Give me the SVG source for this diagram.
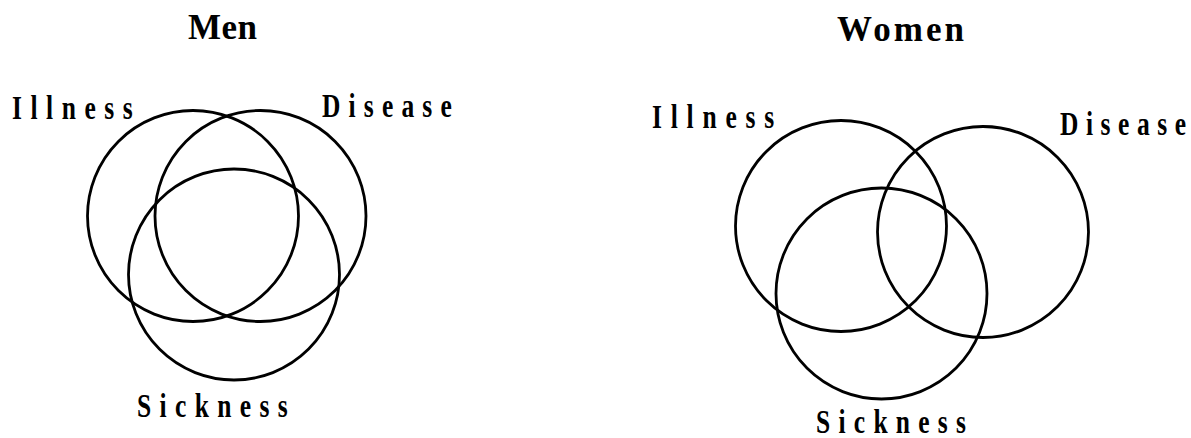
<svg xmlns="http://www.w3.org/2000/svg" width="1191" height="438" viewBox="0 0 1191 438">
<style>
.bg{fill:#ffffff}
.c{fill:none;stroke:#000000;stroke-width:2.8}
.t{font-family:"Liberation Serif","Times New Roman",serif;font-weight:bold;fill:#000000}
.title{font-size:35px}
.lab{font-size:34px}
</style>
<rect class="bg" x="0" y="0" width="1191" height="438"/>
<g id="men">
  <g id="men-title"><text class="t title" x="188" y="39" textLength="69" lengthAdjust="spacing">Men</text></g>
  <g id="men-illness">
    <circle class="c" cx="193" cy="216" r="105.5"/>
    <g transform="translate(12,119) scale(0.75,1)"><text class="t lab" x="0" y="0" textLength="161" lengthAdjust="spacing">Illness</text></g>
  </g>
  <g id="men-disease">
    <circle class="c" cx="260.5" cy="216" r="105.5"/>
    <g transform="translate(322,117) scale(0.75,1)"><text class="t lab" x="0" y="0" textLength="173" lengthAdjust="spacing">Disease</text></g>
  </g>
  <g id="men-sickness">
    <circle class="c" cx="234" cy="274.5" r="105.5"/>
    <g transform="translate(137,417) scale(0.75,1)"><text class="t lab" x="0" y="0" textLength="201" lengthAdjust="spacing">Sickness</text></g>
  </g>
</g>
<g id="women">
  <g id="women-title"><text class="t title" x="837" y="41" textLength="127" lengthAdjust="spacing">Women</text></g>
  <g id="women-illness">
    <circle class="c" cx="841" cy="226" r="105.5"/>
    <g transform="translate(652,128) scale(0.75,1)"><text class="t lab" x="0" y="0" textLength="163" lengthAdjust="spacing">Illness</text></g>
  </g>
  <g id="women-disease">
    <circle class="c" cx="983" cy="232" r="105.5"/>
    <g transform="translate(1060,135) scale(0.75,1)"><text class="t lab" x="0" y="0" textLength="168" lengthAdjust="spacing">Disease</text></g>
  </g>
  <g id="women-sickness">
    <circle class="c" cx="881.5" cy="293.5" r="105.5"/>
    <g transform="translate(816,433) scale(0.75,1)"><text class="t lab" x="0" y="0" textLength="200" lengthAdjust="spacing">Sickness</text></g>
  </g>
</g>
<g id="connectors"/>
</svg>
